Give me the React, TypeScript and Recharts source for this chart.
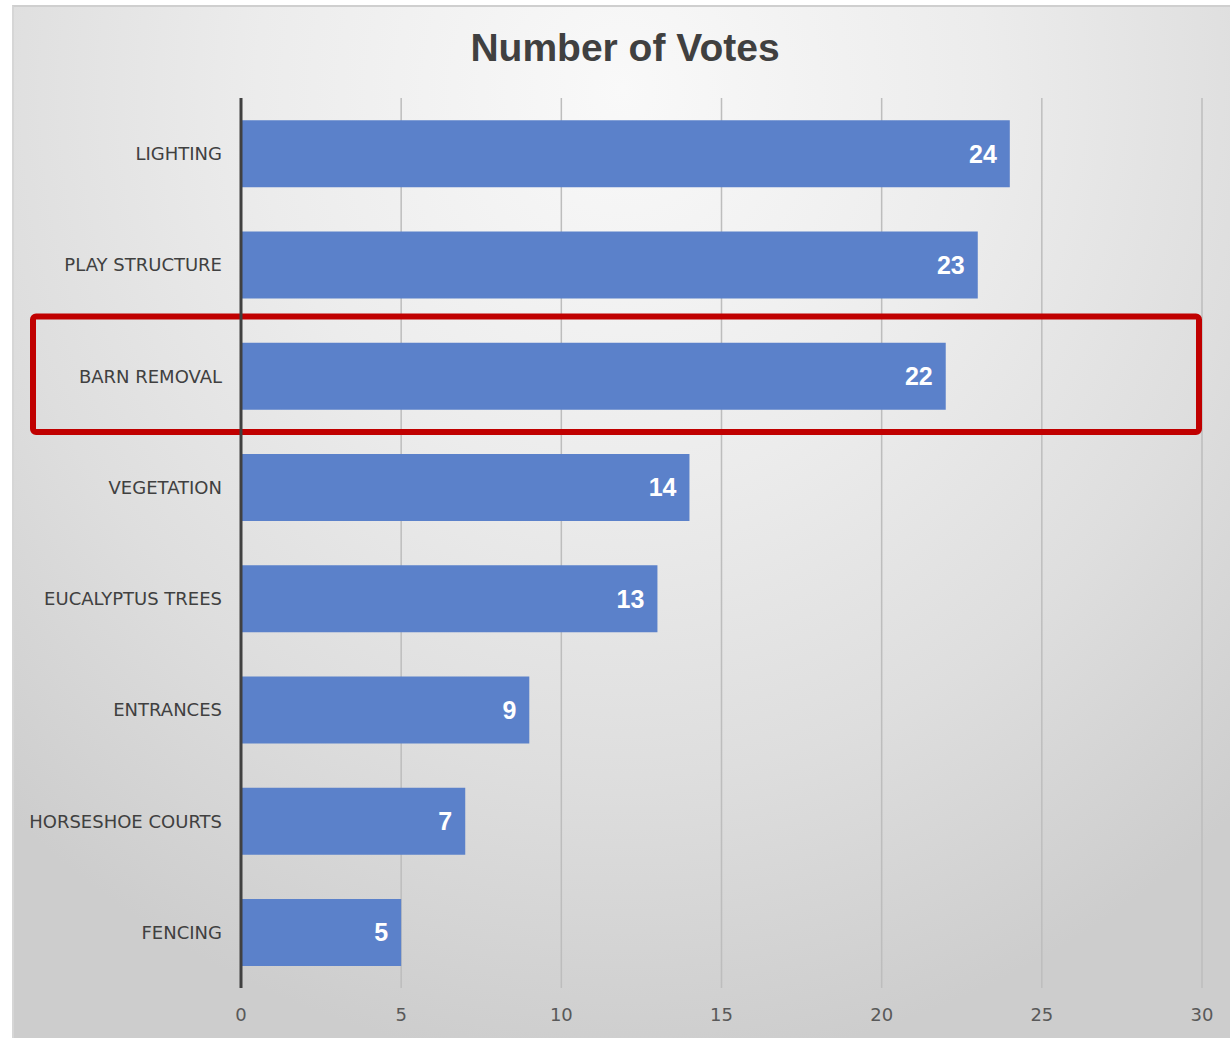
import React from 'react';
import { BarChart, Bar, XAxis, YAxis, CartesianGrid, LabelList } from 'recharts';

const categories = [
  'LIGHTING',
  'PLAY STRUCTURE',
  'BARN REMOVAL',
  'VEGETATION',
  'EUCALYPTUS TREES',
  'ENTRANCES',
  'HORSESHOE COURTS',
  'FENCING',
];
const votes = [24, 23, 22, 14, 13, 9, 7, 5];
const xTicks = [0, 5, 10, 15, 20, 25, 30];
const highlighted = 'BARN REMOVAL';
const title = 'Number of Votes';

const data = categories.map((c, i) => ({ name: c, votes: votes[i] }));

const BAR_COLOR = '#5b81ca';
const GAP_FRACTION = 0.2; // barCategoryGap on each side

const BarShape = (props: any) => {
  const { x, y, width, height, background, payload } = props;
  const isHi = payload && payload.name === highlighted;
  const bg = background || { x, y, width, height };
  // band padding derived from bar height and category gap fraction
  const pad = (height * GAP_FRACTION) / (1 - 2 * GAP_FRACTION);
  return (
    <g>
      <rect x={x} y={y} width={width} height={height} fill={BAR_COLOR} />
      {isHi && (
        <rect
          x={bg.x - 208}
          y={y - pad - 4}
          width={bg.width + 208 - 3}
          height={height + 2 * pad + 4}
          rx={3}
          ry={3}
          fill="none"
          stroke="#c00000"
          strokeWidth={6}
        />
      )}
    </g>
  );
};

export default function App() {
  return (
    <div style={{ position: 'absolute', left: 0, top: 0, width: 1230, height: 1038, background: '#ffffff', overflow: 'hidden' }}>
      <div
        style={{
          position: 'absolute',
          left: 12,
          top: 5,
          width: 1218,
          height: 1033,
          borderTop: '2px solid #cfcfcf',
          borderLeft: '2px solid #d6d6d6',
          boxSizing: 'border-box',
          background: 'radial-gradient(ellipse 75% 95% at 50% 8%, #f9f9f9 0%, #ececec 40%, #dedede 70%, #cdcdcd 100%)',
        }}
      />
      <div
        style={{
          position: 'absolute',
          left: 12,
          top: 24,
          width: 1226,
          textAlign: 'center',
          fontFamily: '"Liberation Sans", Arial, sans-serif',
          fontWeight: 'bold',
          fontSize: 39,
          lineHeight: '48px',
          color: '#404040',
        }}
      >
        {title}
      </div>
      <div style={{ position: 'absolute', left: 12, top: 5 }}>
        <BarChart
          width={1218}
          height={1033}
          data={data}
          layout="vertical"
          barCategoryGap="20%"
          margin={{ top: 93, right: 28, left: 0, bottom: 10 }}
        >
          <CartesianGrid horizontal={false} vertical={true} stroke="#bdbdbd" strokeWidth={1.5} />
          <XAxis
            type="number"
            domain={[0, 30]}
            ticks={xTicks}
            axisLine={false}
            tickLine={false}
            tickSize={6}
            tickMargin={14}
            height={40}
            interval={0}
            tick={{ fill: '#595959', fontSize: 18, fontFamily: '"DejaVu Sans", sans-serif' }}
          />
          <YAxis
            type="category"
            dataKey="name"
            width={229}
            axisLine={{ stroke: '#404040', strokeWidth: 3 }}
            tickLine={false}
            tickSize={6}
            tickMargin={13}
            interval={0}
            tick={{ fill: '#404040', fontSize: 18, fontFamily: '"DejaVu Sans", sans-serif' }}
          />
          <Bar
            dataKey="votes"
            isAnimationActive={false}
            fill={BAR_COLOR}
            background={{ fill: 'transparent' }}
            shape={BarShape}
          >
            <LabelList
              dataKey="votes"
              position="insideRight"
              offset={13}
              fill="#ffffff"
              style={{ fontSize: 25, fontWeight: 'bold', fontFamily: '"Liberation Sans", Arial, sans-serif' }}
            />
          </Bar>
        </BarChart>
      </div>
    </div>
  );
}
